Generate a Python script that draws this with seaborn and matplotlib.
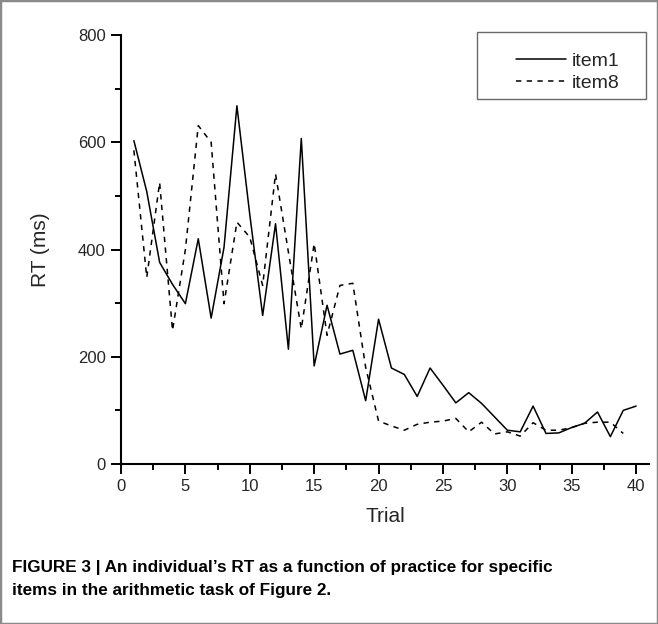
import numpy as np
import pandas as pd
import seaborn as sns
import matplotlib
matplotlib.use("Agg")
import matplotlib.pyplot as plt
from matplotlib.lines import Line2D
from matplotlib.legend_handler import HandlerLine2D
from matplotlib.patches import Rectangle
from matplotlib.ticker import MultipleLocator

# ---- data ----
trials_item1 = list(range(1, 41))
rt_item1 = [603, 508, 376, 335, 299, 420, 272, 404, 668, 465,
            277, 448, 214, 607, 183, 296, 205, 212, 118, 270,
            179, 167, 126, 179, 147, 114, 133, 113, 88, 63,
            60, 108, 57, 58, 68, 76, 97, 51, 100, 108]
trials_item8 = list(range(1, 40))
rt_item8 = [585, 348, 525, 249, 400, 631, 600, 299, 451, 423,
            333, 541, 395, 252, 411, 240, 333, 337, 180, 80,
            71, 63, 74, 78, 80, 85, 60, 78, 56, 60,
            52, 77, 63, 63, 68, 76, 78, 78, 57]
series_names = ["item1", "item8"]
x_label = "Trial"
y_label = "RT (ms)"
caption = ("FIGURE 3 | An individual\u2019s RT as a function of practice for specific\n"
           "items in the arithmetic task of Figure 2.")

df = pd.concat([
    pd.DataFrame({"Trial": trials_item1, "RT": rt_item1, "item": series_names[0]}),
    pd.DataFrame({"Trial": trials_item8, "RT": rt_item8, "item": series_names[1]}),
], ignore_index=True)

sns.set_style("ticks")
plt.rcParams["font.family"] = ["Liberation Sans", "DejaVu Sans"]

W, H = 658, 624
fig = plt.figure(figsize=(W / 100, H / 100), dpi=100)
ax = fig.add_axes([121 / W, 1 - 464 / H, 528 / W, 429 / H])

sns.lineplot(data=df, x="Trial", y="RT", style="item", color="black",
             dashes={"item1": "", "item8": (3.5, 3.5)}, linewidth=1.1,
             ax=ax, legend=False)

ax.set_xlim(0, 41)
ax.set_ylim(0, 800)
ax.xaxis.set_major_locator(MultipleLocator(5))
ax.xaxis.set_minor_locator(MultipleLocator(2.5))
ax.yaxis.set_major_locator(MultipleLocator(200))
ax.yaxis.set_minor_locator(MultipleLocator(100))
ax.tick_params(which="major", direction="out", length=7, width=1.4,
               labelsize=12, pad=4, color="black")
ax.tick_params(which="minor", direction="out", length=4, width=1.4, color="black")
for s in ["top", "right"]:
    ax.spines[s].set_visible(False)
for s in ["left", "bottom"]:
    ax.spines[s].set_linewidth(1.5)
    ax.spines[s].set_color("black")
ax.set_xlabel(x_label, fontsize=15, labelpad=9)
ax.set_ylabel(y_label, fontsize=15, labelpad=20)

handles = [Line2D([], [], color="black", lw=1.1),
           Line2D([], [], color="black", lw=1.1, dashes=(3.5, 3.5))]
leg = ax.legend(handles, series_names, loc="upper left",
                bbox_to_anchor=(0.675, 0.85, 0.319, 0.157), mode="expand",
                borderaxespad=0, borderpad=0.35, fontsize=14,
                handlelength=4.2, handletextpad=0.32, labelspacing=0.2,
                title=" ", title_fontsize=7, fancybox=False, frameon=True,
                handler_map={Line2D: HandlerLine2D(xpad=1.64)})
leg.get_frame().set_edgecolor("#444444")
leg.get_frame().set_linewidth(1.0)

fig.text(12 / W, 1 - 579 / H, caption, fontsize=12.3, fontweight="bold",
         family=["Liberation Sans", "DejaVu Sans"], color="black",
         va="center", ha="left", linespacing=1.6)

fig.patches.append(Rectangle((0, 0), 1, 1, transform=fig.transFigure,
                             fill=False, edgecolor="#8a8a8a", linewidth=2.5))

fig.savefig("out.png", dpi=100)
